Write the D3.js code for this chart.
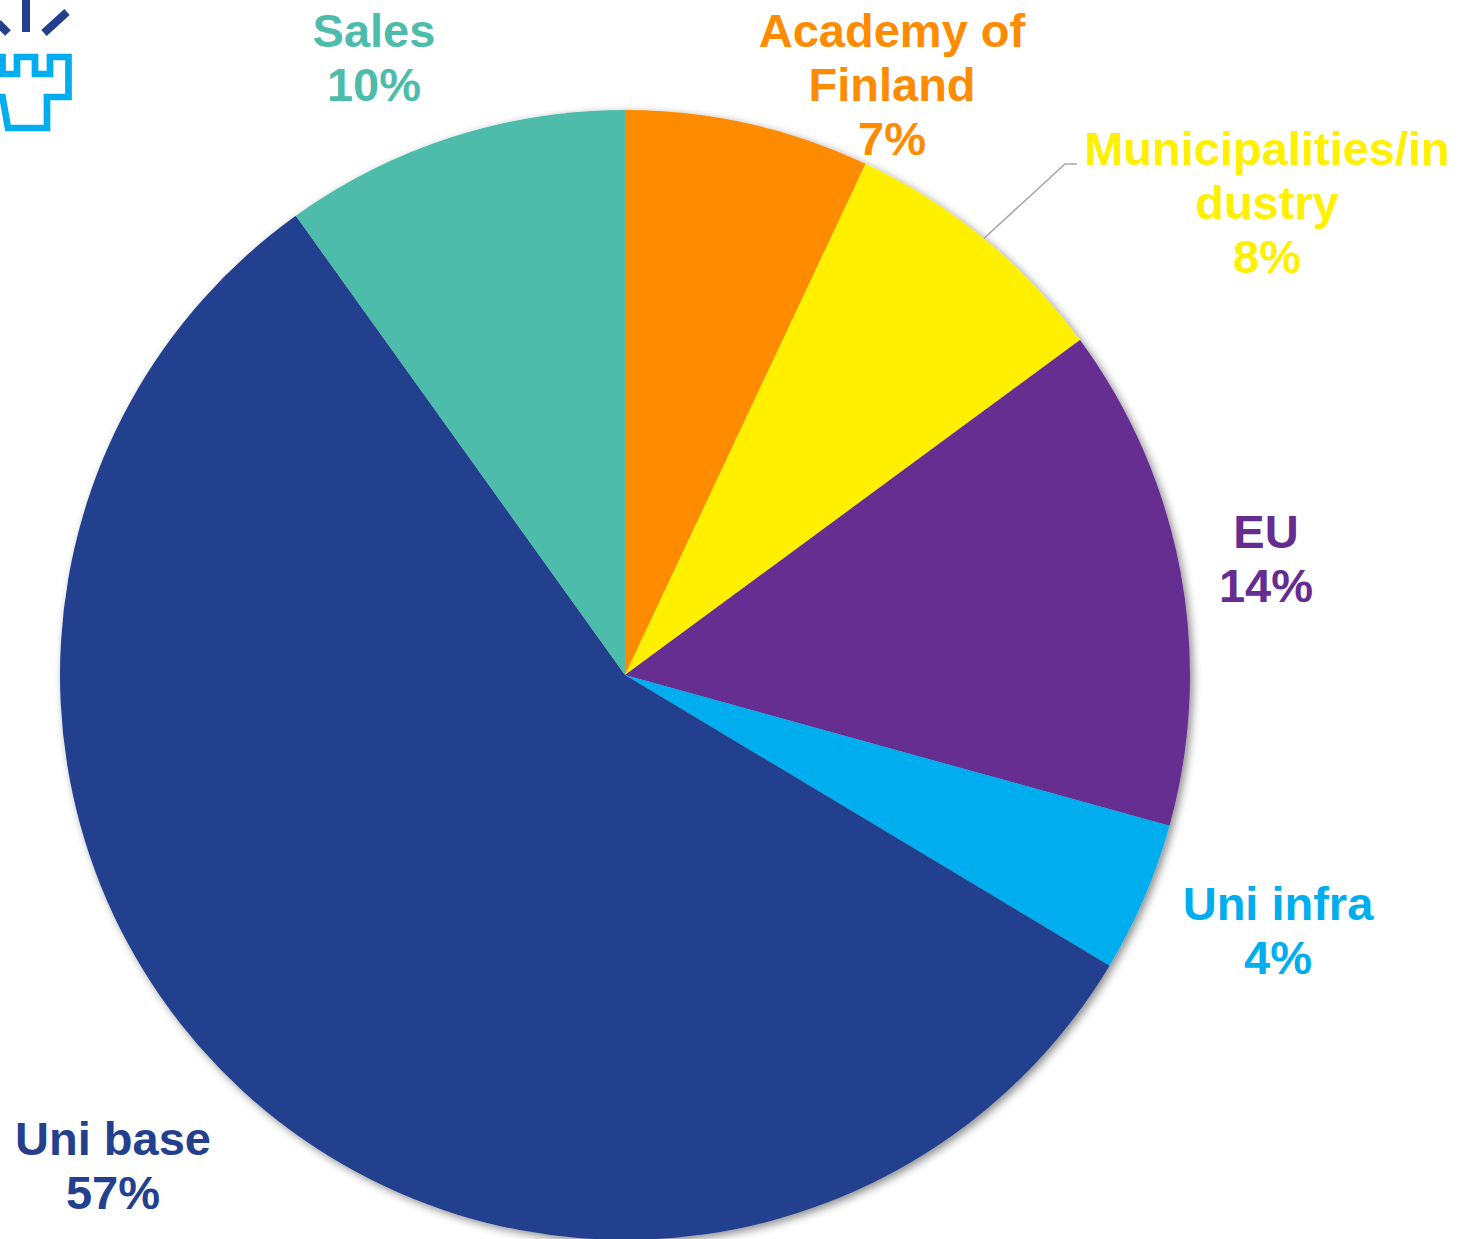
<!DOCTYPE html>
<html>
<head>
<meta charset="utf-8">
<script src="https://cdn.jsdelivr.net/npm/d3@7"></script>
<style>
  body { margin: 0; background: #fff; }
  svg text { font-family: "Liberation Sans", Arial, sans-serif; font-weight: bold; }
</style>
</head>
<body>
<svg id="chart" width="1463" height="1239"></svg>
<script>
// funding shares, clockwise from 12 o'clock
var categories = ["Academy of Finland", "Municipalities/industry", "EU", "Uni infra", "Uni base", "Sales"];
var values = [7.0, 7.9, 14.4, 4.3, 56.5, 9.9];
var colors = ["#ff8b00", "#fff000", "#652d90", "#00aeef", "#23408e", "#4ebcaa"];
// label lines as they wrap in the original
var labelLines = [["Academy of", "Finland"], ["Municipalities/in", "dustry"], ["EU"], ["Uni infra"], ["Uni base"], ["Sales"]];
var labelPos = [[892, 47], [1267, 165], [1266, 548], [1278, 920], [113, 1155], [374, 47]];

var svg = d3.select("#chart");
var cx = 625, cy = 675, r = 565;
var lineH = 54;

var defs = svg.append("defs");
var f = defs.append("filter").attr("id", "shadow")
    .attr("x", "-10%").attr("y", "-10%").attr("width", "120%").attr("height", "120%");
f.append("feDropShadow").attr("dx", 3).attr("dy", 3).attr("stdDeviation", 4)
    .attr("flood-color", "#000").attr("flood-opacity", 0.45);

var pie = d3.pie().sort(null).value(function(d) { return d; });
var arcs = pie(values);
var arc = d3.arc().innerRadius(0).outerRadius(r);

var g = svg.append("g").attr("transform", "translate(" + cx + "," + cy + ")");
var slices = g.append("g").attr("filter", "url(#shadow)");
slices.selectAll("path")
    .data(arcs)
    .enter().append("path")
    .attr("d", arc)
    .attr("fill", function(d, i) { return colors[i]; });

// leader line for the municipalities label
var m = arcs[1];
var mid = (m.startAngle + m.endAngle) / 2;
var p0 = [cx + r * Math.sin(mid), cy - r * Math.cos(mid)];
var lp = labelPos[1];
svg.append("polyline")
    .attr("points", [p0, [lp[0] - 202, lp[1] - 1], [lp[0] - 190, lp[1] - 1]].map(function(p) { return p.join(","); }).join(" "))
    .attr("fill", "none")
    .attr("stroke", "#a6a6a6")
    .attr("stroke-width", 1.5);

// labels
var labels = svg.append("g");
arcs.forEach(function(d, i) {
    var lines = labelLines[i].concat([Math.round(values[i]) + "%"]);
    var t = labels.append("text")
        .attr("x", labelPos[i][0])
        .attr("y", labelPos[i][1])
        .attr("text-anchor", "middle")
        .attr("font-size", 47)
        .attr("fill", colors[i]);
    t.selectAll("tspan")
        .data(lines)
        .enter().append("tspan")
        .attr("x", labelPos[i][0])
        .attr("dy", function(l, j) { return j == 0 ? 0 : lineH; })
        .text(function(l) { return l; });
});

// logo, partly cut off at top left
var logo = svg.append("g");
logo.append("path")
    .attr("d", "M26,0 V32 M44,33 L67,12 M-2,23 L8,33")
    .attr("stroke", "#23408e")
    .attr("stroke-width", 8)
    .attr("fill", "none");
logo.append("path")
    .attr("d", "M-5,57 H2.5 V74 H17 V57 H35 V74 H50 V57 H68.5 V97 H47 V128 H8 L2.5,97 H-5")
    .attr("stroke", "#00aeef")
    .attr("stroke-width", 6.7)
    .attr("fill", "none");
</script>
</body>
</html>
